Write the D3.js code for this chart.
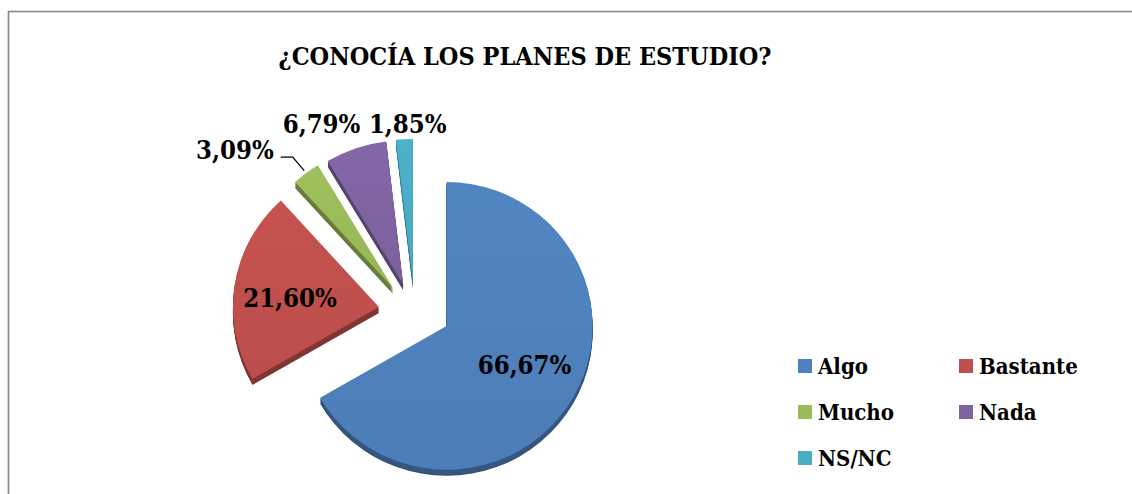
<!DOCTYPE html>
<html>
<head>
<meta charset="utf-8">
<script src="https://cdn.jsdelivr.net/npm/d3@7"></script>
<style>
  body { margin: 0; background: #fff; }
  svg { display: block; }
  .lbl { font-family: "DejaVu Serif Condensed", "DejaVu Serif", serif; font-stretch: condensed; font-weight: bold; }
</style>
</head>
<body>
<div id="chart"></div>
<script>
const title = "¿CONOCÍA LOS PLANES DE ESTUDIO?";
const categories = ["Algo", "Bastante", "Mucho", "Nada", "NS/NC"];
const percentages = [66.67, 21.60, 3.09, 6.79, 1.85];
const colors = ["#4f81bd", "#c0504d", "#9bbb59", "#8064a2", "#4bacc6"];

const width = 1132, height = 494;
const center = { x: 415, y: 311.5 };
const radius = 146;
const squash = 0.985;     // slight tilt of the pie plane
const explode = 36.5;
const explodeTilt = 0.79;
const depth = 6;
// inside labels sit at labelR from the slice tip, outside ones get shifted
const insideLabels = [true, true, false, false, false];
const labelR = 90, outR = 175;
const labelShift = [[0, -5], [0, 4], [-15, 0], [-25, 3], [5, 13]];

const fmt = v => d3.format(".2f")(v).replace(".", ",") + "%";

const svg = d3.select("#chart").append("svg")
  .attr("width", width)
  .attr("height", height);

svg.append("rect")
  .attr("x", 8.5).attr("y", 11.5)
  .attr("width", width + 20).attr("height", height + 20)
  .attr("fill", "#fff")
  .attr("stroke", "#898989")
  .attr("stroke-width", 1.6);

svg.append("text")
  .attr("class", "lbl")
  .attr("x", 525).attr("y", 65)
  .attr("text-anchor", "middle")
  .style("font-size", "25px")
  .text(title);

const pie = d3.pie().sort(null).value(d => d)(percentages);
const arc = d3.arc().innerRadius(0).outerRadius(radius);

function dir(a) { return [Math.sin(a), -Math.cos(a)]; }
function tipOf(d) {
  const m = (d.startAngle + d.endAngle) / 2;
  const [dx, dy] = dir(m);
  return [center.x + dx * explode, center.y + dy * explode * explodeTilt];
}

const slices = svg.append("g").attr("class", "pie");

// sides (extrusion) first
pie.forEach((d, i) => {
  const [tx, ty] = tipOf(d);
  const side = d3.color(colors[i]).darker(1.1);
  const g = slices.append("g");
  for (let k = depth; k >= 1; k--) {
    g.append("path")
      .attr("d", arc(d))
      .attr("fill", k === depth ? side.darker(0.3) : side)
      .attr("transform", `translate(${tx},${ty + k}) scale(1,${squash})`);
  }
});

// gradient for the top faces
const defs = svg.append("defs");
colors.forEach((c, i) => {
  const gr = defs.append("linearGradient")
    .attr("id", "g" + i)
    .attr("x1", 0).attr("y1", 0).attr("x2", 0).attr("y2", 1);
  gr.append("stop").attr("offset", 0).attr("stop-color", d3.color(c).brighter(0.08));
  gr.append("stop").attr("offset", 1).attr("stop-color", d3.color(c).darker(0.08));
});

pie.forEach((d, i) => {
  const [tx, ty] = tipOf(d);
  slices.append("path")
    .attr("d", arc(d))
    .attr("fill", `url(#g${i})`)
    .attr("transform", `translate(${tx},${ty}) scale(1,${squash})`);
});

// data labels
const labels = svg.append("g").attr("class", "lbl").style("font-size", "25.5px");
pie.forEach((d, i) => {
  const [tx, ty] = tipOf(d);
  const m = (d.startAngle + d.endAngle) / 2;
  const [dx, dy] = dir(m);
  const r = insideLabels[i] ? labelR : outR;
  let x = tx + dx * r + labelShift[i][0];
  let y = ty + dy * r * squash + labelShift[i][1];
  const anchor = categories[i] === "Mucho" ? "end" : "middle";
  labels.append("text")
    .attr("x", x).attr("y", y)
    .attr("dy", "0.36em")
    .attr("text-anchor", anchor)
    .text(fmt(percentages[i]));
  if (categories[i] === "Mucho") {
    const p = [tx + dx * (radius + 3), ty + dy * (radius + 3) * squash];
    const line = d3.line();
    svg.append("path")
      .attr("d", line([[x + 7, y + 7], [x + 19, y + 7], p]))
      .attr("fill", "none")
      .attr("stroke", "#000")
      .attr("stroke-width", 1.3);
  }
});

// legend, two columns
const legend = svg.append("g").attr("class", "lbl").style("font-size", "22px");
const legX = [798, 959], legY = [366, 412, 458];
categories.forEach((c, i) => {
  const gx = legX[i % 2], gy = legY[Math.floor(i / 2)];
  legend.append("rect")
    .attr("x", gx).attr("y", gy - 7)
    .attr("width", 14).attr("height", 14)
    .attr("fill", colors[i]);
  legend.append("text")
    .attr("x", gx + 20).attr("y", gy)
    .attr("dy", "0.36em")
    .text(c);
});
</script>
</body>
</html>
